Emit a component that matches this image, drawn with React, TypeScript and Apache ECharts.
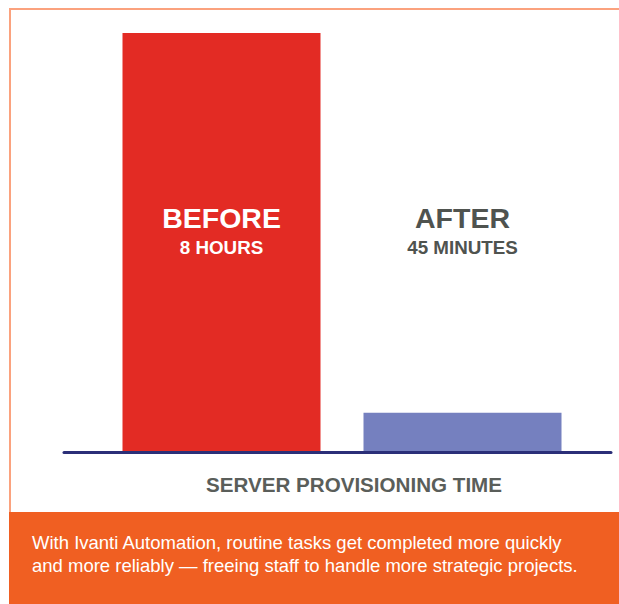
import React, { useEffect, useRef } from "react";
import * as echarts from "echarts";

const categories = ["BEFORE", "AFTER"];
const subLabels = ["8 HOURS", "45 MINUTES"];
const minutesValues = [480, 45];
const axisMax = 480;
const axisTitle = "SERVER PROVISIONING TIME";
const footerLines = [
  "With Ivanti Automation, routine tasks get completed more quickly",
  "and more reliably \u2014 freeing staff to handle more strategic projects.",
];

export default function App() {
  const ref = useRef<HTMLDivElement>(null);
  useEffect(() => {
    const chart = echarts.init(ref.current!, null, { renderer: "svg" });
    const option: any = {
      animation: false,
      backgroundColor: "#ffffff",
      grid: [
        { left: 101, right: 36, top: 33, bottom: 152 },
        { left: 64, right: 8, top: 33, bottom: 152 },
      ],
      xAxis: [
        {
          type: "category",
          data: categories,
          gridIndex: 0,
          axisLine: { show: false },
          axisTick: { show: false },
          axisLabel: { show: false },
        },
        {
          type: "value",
          gridIndex: 1,
          min: 0,
          max: 1,
          z: 5,
          axisLine: { show: true, lineStyle: { color: "#2b2f78", width: 3 } },
          axisTick: { show: false },
          axisLabel: { show: false },
          splitLine: { show: false },
        },
      ],
      yAxis: [
        { type: "value", gridIndex: 0, min: 0, max: axisMax, show: false },
        { type: "value", gridIndex: 1, min: 0, max: axisMax, show: false },
      ],
      series: [
        {
          type: "bar",
          xAxisIndex: 0,
          yAxisIndex: 0,
          barWidth: 198,
          data: minutesValues.map((v, i) => ({
            value: v,
            itemStyle: { color: i === 0 ? "#e32b24" : "#7580bf" },
          })),
        },
      ],
    };
    chart.setOption(option);

    const texts: any[] = [];
    categories.forEach((c, i) => {
      const x = chart.convertToPixel({ xAxisIndex: 0 }, c) as number;
      const col = i === 0 ? "#ffffff" : "#4f534f";
      texts.push({
        type: "text",
        x,
        y: 218,
        z: 10,
        style: {
          text: c,
          fill: col,
          font: "bold 28.5px 'Liberation Sans', Arial, sans-serif",
          align: "center",
          verticalAlign: "middle",
        },
      });
      texts.push({
        type: "text",
        x,
        y: 247,
        z: 10,
        style: {
          text: subLabels[i],
          fill: col,
          font: "bold 18.8px 'Liberation Sans', Arial, sans-serif",
          align: "center",
          verticalAlign: "middle",
        },
      });
    });

    chart.setOption({
      graphic: [
        {
          type: "line",
          shape: { x1: 9, y1: 9, x2: 619, y2: 9 },
          style: { stroke: "#fba27e", lineWidth: 2 },
        },
        {
          type: "line",
          shape: { x1: 10, y1: 8, x2: 10, y2: 512 },
          style: { stroke: "#fba27e", lineWidth: 2 },
        },
        {
          type: "rect",
          shape: { x: 9, y: 512, width: 610, height: 92 },
          style: { fill: "#f05f22" },
        },
        {
          type: "text",
          x: 354,
          y: 484,
          style: {
            text: axisTitle,
            fill: "#5a5e5a",
            font: "bold 20.6px 'Liberation Sans', Arial, sans-serif",
            align: "center",
            verticalAlign: "middle",
          },
        },
        ...footerLines.map((t, i) => ({
          type: "text",
          x: 32,
          y: 542 + i * 23,
          style: {
            text: t,
            fill: "#ffffff",
            font: "18.5px 'Liberation Sans', Arial, sans-serif",
            align: "left",
            verticalAlign: "middle",
          },
        })),
        ...texts,
      ],
    });
    return () => chart.dispose();
  }, []);
  return (
    <div
      ref={ref}
      style={{ position: "fixed", left: 0, top: 0, width: 619, height: 604 }}
    />
  );
}
